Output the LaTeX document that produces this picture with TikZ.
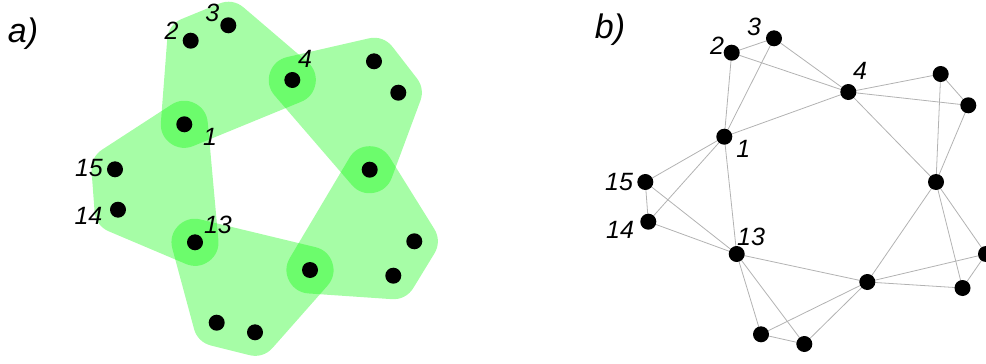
\documentclass[tikz,border=0pt]{standalone}
\usepackage{fontspec}
\setmainfont{Liberation Sans}
\definecolor{hullgreen}{RGB}{0,250,0}
\definecolor{edgegray}{RGB}{178,178,178}
\pgfdeclarelayer{bg}
\pgfsetlayers{bg,main}
\tikzset{
  vtx/.style={circle, fill=black, inner sep=0pt, minimum size=16pt},
  lbl/.style={font=\fontsize{25}{25}\selectfont\itshape, inner sep=0pt},
  panel/.style={font=\fontsize{34}{34}\selectfont\itshape, inner sep=0pt},
  hull/.style={fill=hullgreen, draw=hullgreen, line width=47pt, line join=round},
  hyper/.style={draw=edgegray, line width=0.8pt}
}
\begin{document}
\begin{tikzpicture}[x=1pt,y=-1pt]
\useasboundingbox (0,0) rectangle (986,364);
\clip (0,0) rectangle (986,364);
% ---------- panel a ----------
\coordinate (A1) at (184.3,124.3);
\coordinate (A2) at (190.7,40.7);
\coordinate (A3) at (228.3,25.3);
\coordinate (A4) at (292.3,80);
\coordinate (A5) at (374,61.3);
\coordinate (A6) at (398.3,92.7);
\coordinate (A7) at (369.7,169.7);
\coordinate (A8) at (414.3,241.3);
\coordinate (A9) at (393.3,275.7);
\coordinate (A10) at (310,270);
\coordinate (A11) at (255,332.3);
\coordinate (A12) at (216.7,322.7);
\coordinate (A13) at (195,242.3);
\coordinate (A14) at (118,209.7);
\coordinate (A15) at (115,169.3);
\foreach \p/\q/\r/\s in {1/2/3/4, 4/5/6/7, 7/8/9/10, 10/11/12/13, 13/14/15/1} {
  \begin{scope}[transparency group, opacity=0.35]
    \path[hull] (A\p) -- (A\q) -- (A\r) -- (A\s) -- cycle;
  \end{scope}
}
\foreach \i in {1,...,15} { \node[vtx] (a\i) at (A\i) {}; }
\node[panel] (pa) at (23,34) {a)};
\node[lbl] (la2) at (171.7,31) {2};
\node[lbl] (la3) at (212.3,12.7) {3};
\node[lbl] (la4) at (305,59.3) {4};
\node[lbl] (la1) at (210,137.3) {1};
\node[lbl] (la15) at (89,168.3) {15};
\node[lbl] (la14) at (88.5,216) {14};
\node[lbl] (la13) at (218,225) {13};
% ---------- panel b ----------
\node[vtx] (b1) at (724.3,136.7) {};
\node[vtx] (b2) at (731.7,52.7) {};
\node[vtx] (b3) at (774,38.3) {};
\node[vtx] (b4) at (848.3,92) {};
\node[vtx] (b5) at (940.7,74) {};
\node[vtx] (b6) at (968.3,105.3) {};
\node[vtx] (b7) at (936,182) {};
\node[vtx] (b8) at (986,254) {};
\node[vtx] (b9) at (962.5,288) {};
\node[vtx] (b10) at (867.3,282) {};
\node[vtx] (b11) at (804.3,344) {};
\node[vtx] (b12) at (761,334.3) {};
\node[vtx] (b13) at (736.7,254) {};
\node[vtx] (b14) at (648.3,221.7) {};
\node[vtx] (b15) at (645.3,182) {};
\begin{pgfonlayer}{bg}
\foreach \p/\q/\r/\s in {1/2/3/4, 4/5/6/7, 7/8/9/10, 10/11/12/13, 13/14/15/1} {
  \draw[hyper] (b\p.center) -- (b\q.center) -- (b\r.center) -- (b\s.center) -- (b\p.center) -- (b\r.center);
  \draw[hyper] (b\q.center) -- (b\s.center);
}
\end{pgfonlayer}
\node[panel] (pb) at (610,30) {b)};
\node[lbl] (lb2) at (717,46) {2};
\node[lbl] (lb3) at (754,26.7) {3};
\node[lbl] (lb4) at (860,70.7) {4};
\node[lbl] (lb1) at (743.3,149.3) {1};
\node[lbl] (lb15) at (619,181.7) {15};
\node[lbl] (lb14) at (620,230) {14};
\node[lbl] (lb13) at (751,236.7) {13};
\end{tikzpicture}
\end{document}
